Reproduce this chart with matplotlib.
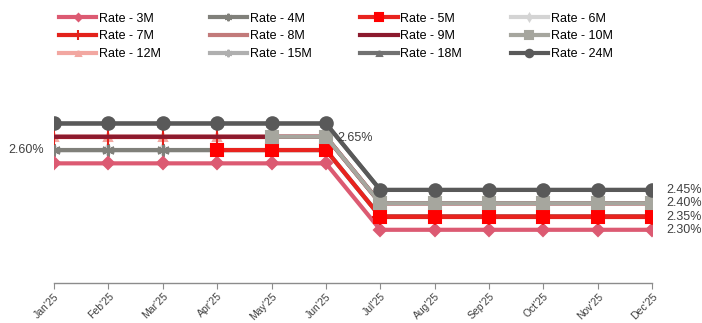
import numpy as np
import matplotlib
matplotlib.use("Agg")
import matplotlib.pyplot as plt

plt.rcParams['font.family'] = ['Liberation Sans', 'DejaVu Sans']

# data
months = ["Jan'25", "Feb'25", "Mar'25", "Apr'25", "May'25", "Jun'25",
          "Jul'25", "Aug'25", "Sep'25", "Oct'25", "Nov'25", "Dec'25"]
nan = np.nan
rate_3m  = [2.55, 2.55, 2.55, 2.55, 2.55, 2.55, 2.30, 2.30, 2.30, 2.30, 2.30, 2.30]
rate_4m  = [2.60, 2.60, 2.60, 2.60, 2.60, 2.60, 2.35, 2.35, 2.35, 2.35, 2.35, 2.35]
rate_5m  = [nan, nan, nan, 2.60, 2.60, 2.60, 2.35, 2.35, 2.35, 2.35, 2.35, 2.35]
rate_6m  = [2.60, 2.60, 2.60, 2.60, 2.60, 2.60, 2.35, 2.35, 2.35, 2.35, 2.35, 2.35]
rate_7m  = [2.65, 2.65, 2.65, 2.65, 2.65, nan, 2.35, 2.35, 2.35, 2.35, 2.35, 2.35]
rate_8m  = [2.65, 2.65, 2.65, 2.65, 2.65, 2.65, 2.40, 2.40, 2.40, 2.40, 2.40, 2.40]
rate_9m  = [2.65, 2.65, 2.65, 2.65, 2.65, 2.65, 2.40, 2.40, 2.40, 2.40, 2.40, 2.40]
rate_10m = [nan, nan, nan, nan, 2.65, 2.65, 2.40, 2.40, 2.40, 2.40, 2.40, 2.40]
rate_12m = [2.65, 2.65, 2.65, 2.65, 2.65, 2.65, 2.40, 2.40, 2.40, 2.40, 2.40, 2.40]
rate_15m = [2.60, 2.60, 2.60, 2.60, 2.60, 2.60, 2.35, 2.35, 2.35, 2.35, 2.35, 2.35]
rate_18m = [2.70, 2.70, 2.70, 2.70, 2.70, 2.70, 2.45, 2.45, 2.45, 2.45, 2.45, 2.45]
rate_24m = [2.70, 2.70, 2.70, 2.70, 2.70, 2.70, 2.45, 2.45, 2.45, 2.45, 2.45, 2.45]

series = {
    "Rate - 3M":  (rate_3m,  "#dc5a72", "D", 6),
    "Rate - 4M":  (rate_4m,  "#80807a", (6, 2, 0), 9),
    "Rate - 5M":  (rate_5m,  "#e8231e", "s", 9),
    "Rate - 6M":  (rate_6m,  "#d4d4d4", "d", 6),
    "Rate - 7M":  (rate_7m,  "#e3221b", "+", 11),
    "Rate - 8M":  (rate_8m,  "#c27a7a", "", 6),
    "Rate - 9M":  (rate_9m,  "#8c1a2e", "", 6),
    "Rate - 10M": (rate_10m, "#a6a69e", "s", 9),
    "Rate - 12M": (rate_12m, "#f2a7a1", "^", 6),
    "Rate - 15M": (rate_15m, "#afafaf", (6, 2, 0), 9),
    "Rate - 18M": (rate_18m, "#717171", "^", 6),
    "Rate - 24M": (rate_24m, "#595959", "o", 9),
}
draw_order = ["Rate - 6M", "Rate - 8M", "Rate - 12M", "Rate - 18M",
              "Rate - 15M", "Rate - 4M", "Rate - 3M", "Rate - 7M",
              "Rate - 9M", "Rate - 5M", "Rate - 10M", "Rate - 24M"]

fig = plt.figure(figsize=(7.02, 3.23), dpi=100)
ax = fig.add_axes([0.077, 0.124, 0.852, 0.576])
x = np.arange(len(months))

lines = {}
for label in draw_order:
    vals, col, mk, ms = series[label]
    mfc = "#ff0000" if label == "Rate - 5M" else col
    ln, = ax.plot(x, vals, color=col, lw=3, marker=mk, ms=ms, mfc=mfc, mec=mfc,
                  mew=1.5, label=label)
    lines[label] = ln

txt = "#404040"
ax.annotate("2.60%", (0, rate_4m[0]), xytext=(-7, 0), textcoords="offset points",
            ha="right", va="center", fontsize=9, color=txt)
ax.annotate("2.65%", (5, rate_10m[5]), xytext=(8, -1), textcoords="offset points",
            ha="left", va="center", fontsize=9, color=txt)
for vals in [rate_24m, rate_10m, rate_5m, rate_3m]:
    ax.annotate(f"{vals[-1]:.2f}%", (11, vals[-1]), xytext=(10, 0),
                textcoords="offset points", ha="left", va="center",
                fontsize=9, color=txt)

ax.set_xlim(0, 11)
ax.set_ylim(2.1, 2.8)
ax.set_yticks([])
for s in ["top", "right", "left"]:
    ax.spines[s].set_visible(False)
ax.spines["bottom"].set_color("#8c8c8c")
ax.spines["bottom"].set_linewidth(1)
ax.set_xticks(x)
ax.set_xticklabels(months, rotation=45, ha="right", rotation_mode="anchor",
                   fontsize=7.5, color=txt)
ax.tick_params(axis="x", length=4, color="#8c8c8c", pad=2)

# legend filled row by row, 4 per row
names = list(series.keys())
ncol = 4
order = [names[r * ncol + c] for c in range(ncol) for r in range(3)]
fig.legend([lines[n] for n in order], order, loc="upper left",
           bbox_to_anchor=(0.068, 0.995), ncol=ncol, frameon=False,
           fontsize=9, handlelength=3.0, handletextpad=0.2,
           columnspacing=3.9, labelspacing=0.45, markerscale=0.6)

fig.savefig("out.png", dpi=100)
